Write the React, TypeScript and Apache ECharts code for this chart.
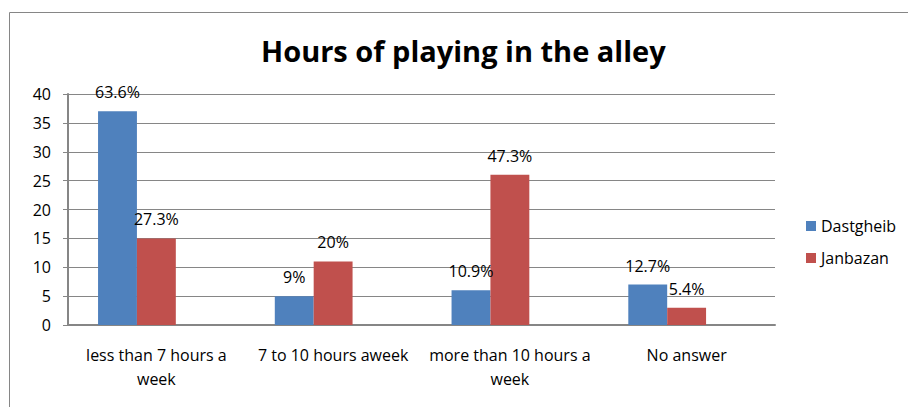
import React, { useEffect, useRef } from "react";
import * as echarts from "echarts";

const categories = [
  "less than 7 hours a\nweek",
  "7 to 10 hours aweek",
  "more than 10 hours a\nweek",
  "No answer",
];
const dastgheib = [37, 5, 6, 7];
const janbazan = [15, 11, 26, 3];
const emptySeries = [null, null, null, null];
const dastgheibLabels = ["63.6%", "9%", "10.9%", "12.7%"];
const janbazanLabels = ["27.3%", "20%", "47.3%", "5.4%"];
const yTicks = { min: 0, max: 40, interval: 5 };

const FONT = "'Open Sans', Lato, sans-serif";
const GRAY = "#868686";

export default function App() {
  const ref = useRef<HTMLDivElement>(null);
  useEffect(() => {
    if (!ref.current) return;
    const chart = echarts.init(ref.current, undefined, { renderer: "svg" });
    const labelStyle = {
      show: true,
      position: "top",
      distance: 11,
      fontFamily: FONT,
      fontSize: 16,
      color: "#000",
    };
    chart.setOption({
      animation: false,
      backgroundColor: "#ffffff",
      textStyle: { fontFamily: FONT },
      title: {
        text: "Hours of playing in the alley",
        left: 256,
        top: 31,
        textStyle: { fontFamily: FONT, fontSize: 29, fontWeight: "bold", color: "#000" },
      },
      graphic: [
        {
          type: "rect",
          shape: { x: 9.5, y: 12.5, width: 1000, height: 600 },
          style: { fill: "none", stroke: GRAY, lineWidth: 1 },
          silent: true,
          z: -1,
        },
      ],
      legend: {
        orient: "vertical",
        left: 801,
        top: 211,
        icon: "rect",
        itemWidth: 10,
        itemHeight: 10,
        itemGap: 12,
        textStyle: { fontFamily: FONT, fontSize: 16, color: "#000", lineHeight: 20, padding: [0, 0, 0, 0] },
        data: ["Dastgheib", "Janbazan"],
      },
      grid: { left: 68, right: 133, top: 94, bottom: 82, containLabel: false },
      xAxis: {
        type: "category",
        data: categories,
        axisLine: { show: true, lineStyle: { color: GRAY, width: 2 } },
        axisTick: { show: false },
        axisLabel: {
          fontFamily: FONT,
          fontSize: 16,
          color: "#000",
          lineHeight: 24,
          margin: 18,
          interval: 0,
        },
      },
      yAxis: {
        type: "value",
        min: yTicks.min,
        max: yTicks.max,
        interval: yTicks.interval,
        axisLine: { show: true, lineStyle: { color: GRAY, width: 2 } },
        axisTick: { show: true, length: 5, lineStyle: { color: GRAY } },
        splitLine: { show: true, lineStyle: { color: GRAY, width: 1 } },
        axisLabel: { fontFamily: FONT, fontSize: 16, color: "#000", margin: 17 },
      },
      series: [
        {
          name: "Dastgheib",
          type: "bar",
          data: dastgheib,
          barGap: "0%",
          barCategoryGap: "34%",
          itemStyle: { color: "#4F81BD" },
          label: { ...labelStyle, formatter: (p: any) => dastgheibLabels[p.dataIndex] },
        },
        {
          name: "Janbazan",
          type: "bar",
          data: janbazan,
          barGap: "0%",
          barCategoryGap: "34%",
          itemStyle: { color: "#C0504D" },
          label: { ...labelStyle, formatter: (p: any) => janbazanLabels[p.dataIndex] },
        },
        {
          name: "empty",
          type: "bar",
          data: emptySeries,
          barGap: "0%",
          barCategoryGap: "34%",
          itemStyle: { color: "transparent" },
          silent: true,
        },
      ],
    });
    return () => chart.dispose();
  }, []);
  return (
    <div
      ref={ref}
      style={{ position: "absolute", left: 0, top: 0, width: 908, height: 407 }}
    />
  );
}
